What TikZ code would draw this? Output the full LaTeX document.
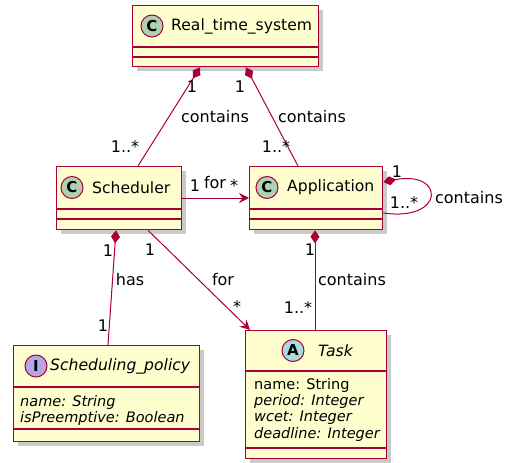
\documentclass[tikz,border=0pt]{standalone}
\usepackage{fontspec}
\setmainfont{DejaVu Sans}
\usetikzlibrary{arrows.meta,shadows,calc}
\definecolor{umlred}{HTML}{A80036}
\definecolor{umlfill}{HTML}{FEFECE}
\definecolor{cgreen}{HTML}{ADD1B2}
\definecolor{cblue}{HTML}{A9DCDF}
\definecolor{cpurple}{HTML}{B4A7E5}
\begin{document}
\begin{tikzpicture}[x=1pt,y=-1pt,
  cls/.style={draw=umlred, fill=umlfill, line width=1.3pt, inner sep=0pt, anchor=north west,
    drop shadow={shadow xshift=4pt, shadow yshift=-4pt, fill=black!35, opacity=0.6}},
  sep/.style={draw=umlred, line width=1.3pt},
  badge/.style={circle, draw=umlred, line width=1pt, minimum size=22pt, inner sep=0pt, font=\fontsize{15}{15}\selectfont\bfseries},
  cname/.style={anchor=west, inner sep=0pt, font=\fontsize{15.6}{19}\selectfont},
  attr/.style={anchor=west, inner sep=0pt, font=\fontsize{14.5}{17}\selectfont},
  lbl/.style={inner sep=0pt, font=\fontsize{16}{19}\selectfont},
  link/.style={draw=umlred, line width=1pt},
  comp/.style={link, {Diamond[length=13pt,width=9pt]}-},
  nav/.style={link, -{Stealth[length=10pt,width=10pt,inset=3.5pt]}}
]
\useasboundingbox (0,0) rectangle (507,463);

% classes
\node[cls, minimum width=186pt, minimum height=61pt] (rts) at (132,5) {};
\node[cls, minimum width=125pt, minimum height=63pt] (sch) at (56,166) {};
\node[cls, minimum width=133pt, minimum height=63pt] (app) at (249,166) {};
\node[cls, minimum width=186pt, minimum height=96pt] (pol) at (13,345) {};
\node[cls, minimum width=141pt, minimum height=128pt] (task) at (245,330) {};

% separators
\draw[sep] (132,47) -- (318,47);
\draw[sep] (132,57) -- (318,57);
\draw[sep] (56,209) -- (181,209);
\draw[sep] (56,219) -- (181,219);
\draw[sep] (249,209) -- (382,209);
\draw[sep] (249,219) -- (382,219);
\draw[sep] (13,387) -- (199,387);
\draw[sep] (13,429) -- (199,429);
\draw[sep] (245,371) -- (386,371);
\draw[sep] (245,448) -- (386,448);

% badges
\node[badge, fill=cgreen] (bc1) at (152,26) {C};
\node[badge, fill=cgreen] (bc2) at (72,187.5) {C};
\node[badge, fill=cgreen] (bc3) at (267,187.5) {C};
\node[badge, fill=cpurple] (bi) at (36,366) {I};
\node[badge, fill=cblue] (ba) at (293,350.5) {A};

% names
\node[cname] (nrts) at (171,26) {Real\_time\_system};
\node[cname] (nsch) at (92,187.5) {Scheduler};
\node[cname] (napp) at (287,187.5) {Application};
\node[cname] (npol) at (50,366) {\itshape Scheduling\_policy};
\node[cname] (ntask) at (318,350.5) {\itshape Task};

% attributes
\node[attr] (p1) at (20,402) {\itshape name: String};
\node[attr] (p2) at (20,418.5) {\itshape isPreemptive: Boolean};
\node[attr] (t1) at (254,385) {name: String};
\node[attr] (t2) at (254,401.5) {\itshape period: Integer};
\node[attr] (t3) at (254,418) {\itshape wcet: Integer};
\node[attr] (t4) at (254,434.5) {\itshape deadline: Integer};

% connectors
\draw[comp] ($(rts.south west)+(68,0)$) -- ($(sch.north west)+(82,0)$);
\draw[comp] ($(rts.south west)+(114,0)$) -- ($(app.north west)+(49,0)$);
\draw[nav] ($(sch.north east)+(0,32)$) -- ($(app.north west)+(0,32)$);
\draw[comp] ($(app.north east)+(0,16)$) .. controls ($(app.north east)+(62,4)$) and ($(app.north east)+(62,56)$) .. ($(app.north east)+(0,47)$);
\draw[comp] ($(sch.south west)+(60,0)$) -- ($(pol.north west)+(95,0)$);
\draw[nav] ($(sch.south west)+(92,0)$) -- ($(task.north west)+(5,0)$);
\draw[comp] ($(app.south west)+(66,0)$) -- ($(task.north west)+(70,0)$);

% labels
\node[lbl] (l1) at (192,87) {1};
\node[lbl] (l2) at (215,117) {contains};
\node[lbl] (l3) at (125,147) {1..*};
\node[lbl] (l4) at (240,87) {1};
\node[lbl] (l5) at (312,117) {contains};
\node[lbl] (l6) at (276,147) {1..*};
\node[lbl] (l7) at (195,186) {1};
\node[lbl] (l8) at (215,183) {for};
\node[lbl] (l9) at (234,186) {*};
\node[lbl] (l10) at (397,172) {1};
\node[lbl] (l11) at (404,203) {1..*};
\node[lbl] (l12) at (469,198) {contains};
\node[lbl] (l13) at (108,251) {1};
\node[lbl] (l14) at (130,280) {has};
\node[lbl] (l15) at (103,326) {1};
\node[lbl] (l16) at (150,250) {1};
\node[lbl] (l17) at (223,280) {for};
\node[lbl] (l18) at (237,307) {*};
\node[lbl] (l19) at (310,250) {1};
\node[lbl] (l20) at (352,280) {contains};
\node[lbl] (l21) at (298,308) {1..*};
\end{tikzpicture}
\end{document}
